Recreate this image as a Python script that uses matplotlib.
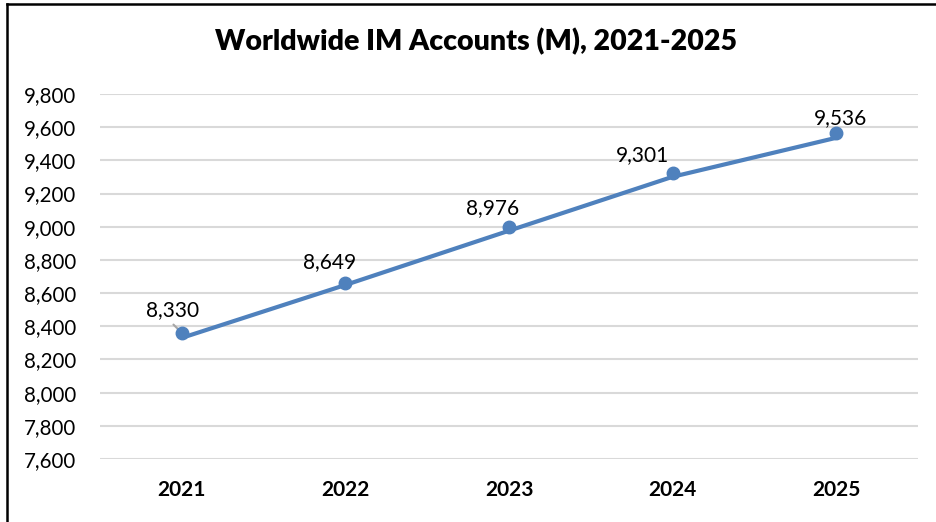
import matplotlib.pyplot as plt
from matplotlib.lines import Line2D

years = ["2021", "2022", "2023", "2024", "2025"]
accounts = [8330, 8649, 8976, 9301, 9536]
# markers in the original sit slightly above the line
marker_values = [8360, 8661, 8998, 9324, 9563]
label_texts = ["8,330", "8,649", "8,976", "9,301", "9,536"]
y_ticks = list(range(7600, 9801, 200))

# data label offsets from the markers, in pixels (right, up)
label_offsets = [(-9, 23), (-16, 21), (-16, 19), (-30, 18), (4, 15)]

plt.rcParams['font.family'] = ['Lato', 'DejaVu Sans']

W, H = 937, 522
fig = plt.figure(figsize=(W / 100, H / 100), dpi=100)
ax = fig.add_axes([100 / W, 1 - 459 / H, 818 / W, 365 / H])

x = list(range(len(years)))
line_color = '#4F81BD'
ax.plot(x, accounts, color=line_color, lw=3.0, solid_capstyle='butt', zorder=3)
ax.plot(x, marker_values, ls='none', marker='o', ms=9, color=line_color, zorder=4)

for i, (txt, off) in enumerate(zip(label_texts, label_offsets)):
    px = off[0] * 72 / 100
    py = off[1] * 72 / 100
    ax.annotate(txt, (x[i], marker_values[i]), xytext=(px, py), textcoords='offset points',
                ha='center', va='center', fontsize=15, color='#000000', zorder=5)

# leader line for the first label
ax.annotate('', xy=(x[0], marker_values[0]), xytext=(-6, 6), textcoords='offset points',
            arrowprops=dict(arrowstyle='-', color='#a6a6a6', lw=1.5, shrinkA=0, shrinkB=0), zorder=3.5)

ax.set_xlim(-0.5, len(years) - 0.5)
ax.set_ylim(7600, 9800)
ax.set_yticks(y_ticks)
ax.set_yticklabels([f"{v:,}" for v in y_ticks], fontsize=14.8)
ax.set_xticks(x)
ax.set_xticklabels(years, fontsize=15, fontweight='bold')
ax.tick_params(axis='both', length=0)
ax.tick_params(axis='y', pad=17)
ax.tick_params(axis='x', pad=15)
ax.grid(axis='y', color='#d9d9d9', lw=1.5)
ax.set_axisbelow(True)
for s in ax.spines.values():
    s.set_visible(False)

fig.text(476 / W, 1 - 42 / H, "Worldwide IM Accounts (M), 2021-2025", ha='center', va='center',
         fontsize=20.5, fontweight='heavy')

# chart frame (left and top edges visible)
fig.add_artist(Line2D([7.5 / W, 7.5 / W], [0, 1 - 4 / H], color='black', lw=1.8, transform=fig.transFigure))
fig.add_artist(Line2D([7.5 / W, 1], [1 - 4 / H, 1 - 4 / H], color='black', lw=1.8, transform=fig.transFigure))

fig.savefig("out.png", dpi=100)
